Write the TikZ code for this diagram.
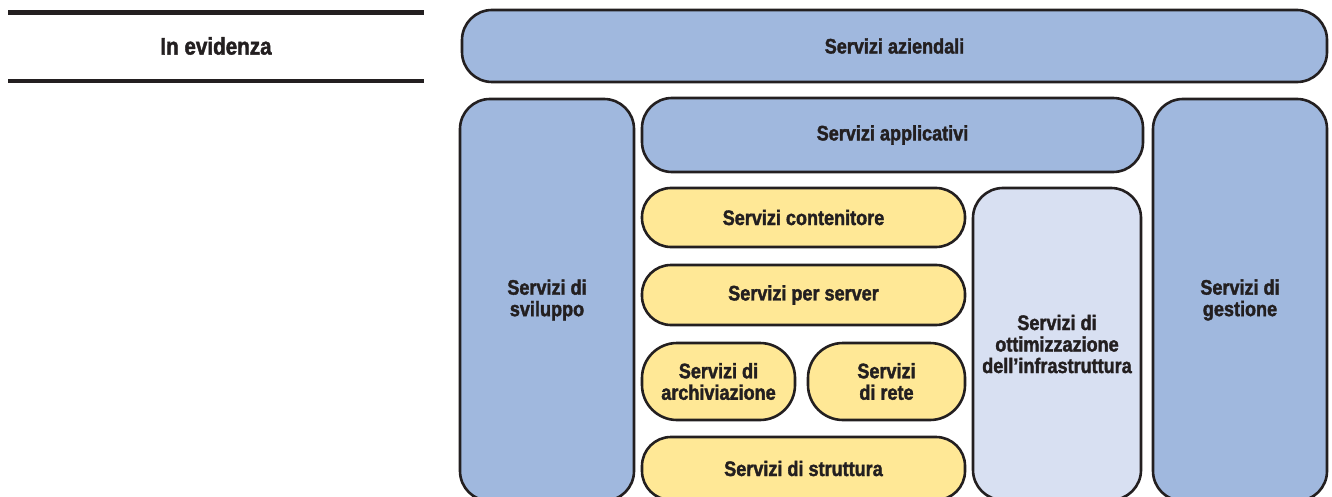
\documentclass[tikz,border=0pt]{standalone}
\usepackage{fontspec}
\setmainfont[FakeStretch=0.86, BoldFeatures={FakeBold=1.7}]{Liberation Sans}
\definecolor{bluesrv}{HTML}{A0B8DE}
\definecolor{yellowsrv}{HTML}{FFE896}
\definecolor{palesrv}{HTML}{D8E0F2}
\definecolor{inkline}{HTML}{231F20}
\begin{document}
\begin{tikzpicture}[x=1pt,y=-1pt,
    srvbox/.style={draw=inkline, line width=2.6pt, rounded corners=30pt, inner sep=0pt,
      align=center, font=\bfseries\fontsize{21}{21.5}\selectfont, text=inkline},
    bluebox/.style={srvbox, fill=bluesrv},
    yellowbox/.style={srvbox, fill=yellowsrv, rounded corners=29pt},
    palebox/.style={srvbox, fill=palesrv}]
    \useasboundingbox (0,0) rectangle (1332,497);
    \clip (0,0) rectangle (1332,497);
        % heading at the left
        \draw[inkline, line width=4.5pt] (8,12.5) -- (424,12.5);
        \draw[inkline, line width=4.5pt] (8,81) -- (424,81);
        \node[font=\bfseries\fontsize{24}{26}\selectfont, text=inkline] (head) at (216,46) {In evidenza};

        % outer layer
        \node[bluebox, minimum width=865pt, minimum height=72pt] (aziend) at (894.5,46) {Servizi aziendali};
        \node[bluebox, minimum width=174pt, minimum height=402pt] (svil) at (547,300) {Servizi di\\sviluppo};
        \node[bluebox, minimum width=174pt, minimum height=402pt] (gest) at (1240,300) {Servizi di\\gestione};
        \node[bluebox, minimum width=501pt, minimum height=74pt] (appl) at (892.5,135) {Servizi applicativi};

        % infrastructure layer
        \node[yellowbox, minimum width=323pt, minimum height=59pt] (cont) at (803.5,217.5) {Servizi contenitore};
        \node[yellowbox, minimum width=323pt, minimum height=60pt] (serv) at (803.5,295) {Servizi per server};
        \node[yellowbox, rounded corners=35pt, minimum width=153pt, minimum height=77pt] (arch) at (718.5,381.5) {Servizi di\\archiviazione};
        \node[yellowbox, rounded corners=35pt, minimum width=157pt, minimum height=77pt] (rete) at (886.5,381.5) {Servizi\\di rete};
        \node[yellowbox, minimum width=323pt, minimum height=63pt] (strut) at (803.5,468.5) {Servizi di struttura};
        \node[palebox, minimum width=168pt, minimum height=312pt] (ottim) at (1057,344) {Servizi di\\ottimizzazione\\dell’infrastruttura};
\end{tikzpicture}
\end{document}
